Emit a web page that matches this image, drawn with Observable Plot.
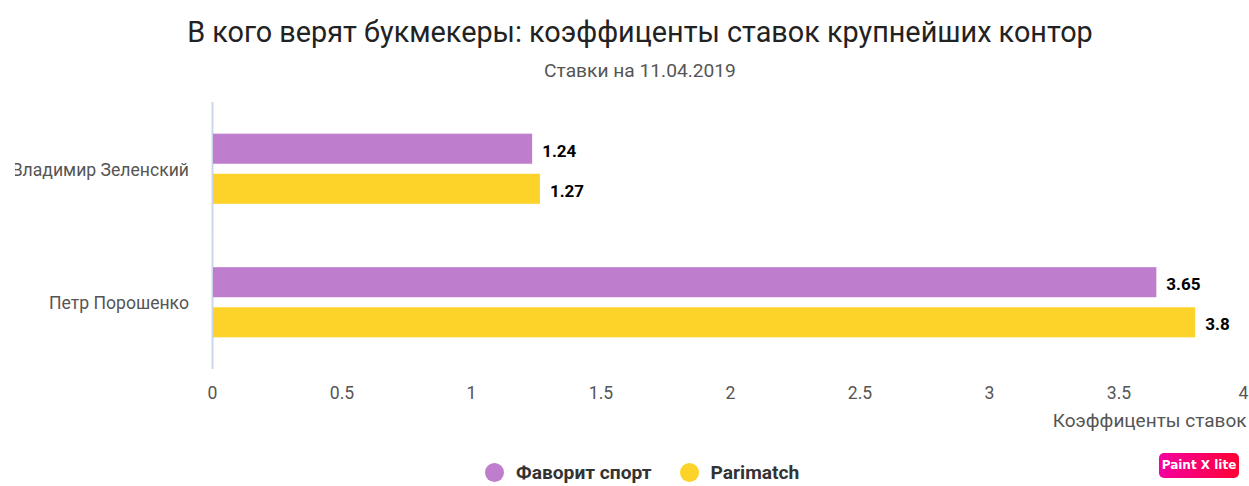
<!DOCTYPE html>
<html lang="ru">
<head>
<meta charset="utf-8">
<script src="https://cdn.jsdelivr.net/npm/d3@7"></script>
<script src="https://cdn.jsdelivr.net/npm/@observablehq/plot@0.6"></script>
<style>
html,body{margin:0;padding:0;background:#fff;width:1249px;height:486px;overflow:hidden;font-family:Roboto,sans-serif}
#wrap{position:relative;width:1249px;height:486px}
#title{position:absolute;left:31px;right:0;top:14px;text-align:center;font-size:28.8px;line-height:36px;color:#222}
#sub{position:absolute;left:31px;right:0;top:59px;text-align:center;font-size:19.2px;line-height:24px;color:#555}
#chart{position:absolute;left:15px;top:88px}
#chart svg{overflow:hidden;font-family:Roboto,sans-serif}
#legend{position:absolute;left:0;top:461px;width:1249px;height:24px;font-size:19.2px;line-height:24px;font-weight:700;color:#333}
.it{position:absolute;top:0;white-space:nowrap}
.dot{position:absolute;top:1.5px;left:0;width:19px;height:19px;border-radius:50%}
.lab{position:absolute;left:31px;top:0}
#badge{position:absolute;left:1159px;top:453px;width:80px;height:25px;border-radius:5px;background:linear-gradient(90deg,#f400a0,#ff0033);color:#fff;font:700 12px/25px "DejaVu Sans",sans-serif;text-align:center}
</style>
</head>
<body>
<div id="wrap">
<div id="title"></div>
<div id="sub"></div>
<div id="chart"></div>
<div id="legend"></div>
<div id="badge">Paint X lite</div>
</div>
<script>
const titleText = "В кого верят букмекеры: коэффиценты ставок крупнейших контор";
const subtitleText = "Ставки на 11.04.2019";
const axisTitle = "Коэффиценты ставок";
const candidates = ["Владимир Зеленский", "Петр Порошенко"];
const seriesNames = ["Фаворит спорт", "Parimatch"];
const seriesColors = ["#bf7dcd", "#fdd329"];
const favoritValues = [1.24, 3.65];
const parimatchValues = [1.27, 3.8];
const tickValues = [0, 0.5, 1, 1.5, 2, 2.5, 3, 3.5];
const lastTick = [4];
const legendLefts = [485, 679.5];

document.getElementById("title").textContent = titleText;
document.getElementById("sub").textContent = subtitleText;

const rows = [];
candidates.forEach((c, i) => {
  rows.push({person: c, series: seriesNames[0], value: favoritValues[i]});
  rows.push({person: c, series: seriesNames[1], value: parimatchValues[i]});
});

const plot = Plot.plot({
  width: 1234,
  height: 352,
  marginLeft: 197,
  marginRight: 1,
  marginTop: 14,
  marginBottom: 71,
  style: {fontFamily: "Roboto, sans-serif", overflow: "hidden"},
  x: {domain: [0, 4], axis: null},
  y: {domain: seriesNames, axis: null, paddingInner: 0.25, paddingOuter: 0.79, round: false},
  fy: {domain: candidates, padding: 0, label: null, axis: null, round: false},
  color: {domain: seriesNames, range: seriesColors},
  marks: [
    Plot.ruleX([0], {stroke: "#ccd6eb", strokeWidth: 2}),
    Plot.barX(rows, {x: "value", y: "series", fy: "person", fill: "series", insetLeft: 1, insetRight: 1}),
    Plot.text(rows, {x: "value", y: "series", fy: "person", text: d => String(d.value), dx: 8.5, dy: 2, textAnchor: "start", fontWeight: 700, fontSize: 17, fill: "#000"}),
    Plot.axisFy({anchor: "left", tickSize: 0, tickPadding: 23, fontSize: 17.6, label: null, color: "#555", dy: 1, dx: -0.5}),
    Plot.axisX({ticks: tickValues, tickFormat: d => String(d), tickSize: 0, tickPadding: 17, fontSize: 17.6, label: null, color: "#555"}),
    Plot.axisX({ticks: lastTick, tickFormat: d => String(d), tickSize: 0, tickPadding: 17, fontSize: 17.6, label: null, color: "#555", textAnchor: "end"}),
    Plot.axisX({ticks: [], label: axisTitle, labelAnchor: "right", labelArrow: "none", labelOffset: 57, fontSize: 19, color: "#555", dx: 1.5})
  ]
});
document.getElementById("chart").appendChild(plot);

const legend = document.getElementById("legend");
seriesNames.forEach((name, i) => {
  const it = document.createElement("div");
  it.className = "it";
  it.style.left = legendLefts[i] + "px";
  const dot = document.createElement("div");
  dot.className = "dot";
  dot.style.background = seriesColors[i];
  const lab = document.createElement("div");
  lab.className = "lab";
  lab.textContent = name;
  it.append(dot, lab);
  legend.appendChild(it);
});
</script>
</body>
</html>
